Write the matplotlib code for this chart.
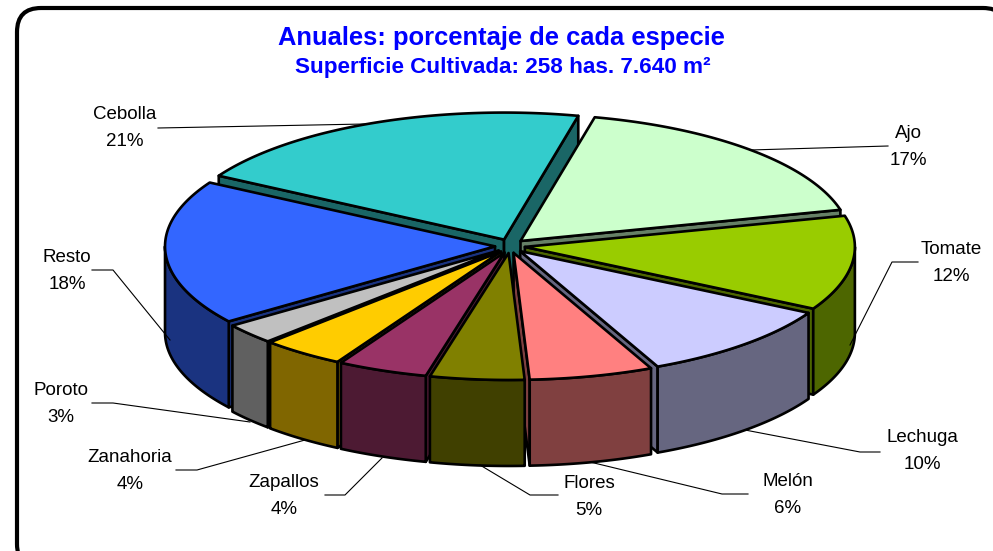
import numpy as np
import matplotlib
matplotlib.use('Agg')
import matplotlib.pyplot as plt
from matplotlib.patches import FancyBboxPatch, Polygon

especies = ['Ajo', 'Tomate', 'Lechuga', 'Melón', 'Flores', 'Zapallos', 'Zanahoria', 'Poroto', 'Resto', 'Cebolla']
porcentajes = [17.44, 12.03, 10.08, 6.06, 4.61, 4.42, 4.08, 2.61, 18.44, 20.23]
etiquetas = [17, 12, 10, 6, 5, 4, 4, 3, 18, 21]
colores = ['#CCFFCC', '#99CC00', '#CCCCFF', '#FF8080', '#808000', '#993366', '#FFCC00', '#C0C0C0', '#3366FF', '#33CCCC']

# label centres and leader paths, in pixels
label_pos = [(908, 147), (951, 263), (922, 451), (788, 495), (589, 497), (284, 496), (130, 471), (61, 404), (67, 271), (125, 128)]
leaders = [
    [(888, 146), (750, 150)],
    [(918, 262), (892, 262), (850, 345)],
    [(880, 452), (860, 452), (745, 430)],
    [(748, 494), (722, 494), (590, 462)],
    [(558, 495), (530, 495), (480, 465)],
    [(325, 495), (345, 495), (382, 458)],
    [(176, 470), (197, 470), (305, 440)],
    [(92, 403), (113, 403), (250, 422)],
    [(92, 270), (113, 270), (170, 340)],
    [(158, 128), (365, 124)],
]

cx, cy = 510, 246
rx, ry = 330, 127
ex, ey = 15, 7
depth = 86
start = 13.0


def rim(t, ax_, ay_):
    t = np.radians(t)
    return np.column_stack([ax_ + rx * np.sin(t), ay_ - ry * np.cos(t)])


def draw_slice(ax, t0, t1, color):
    mid = np.radians((t0 + t1) / 2)
    ax_ = cx + ex * np.sin(mid)
    ay_ = cy - ey * np.cos(mid)
    arc = rim(np.linspace(t0, t1, 80), ax_, ay_)
    apex = np.array([[ax_, ay_]])
    apex_low = apex + [0, depth]
    side = tuple(c * 0.5 for c in matplotlib.colors.to_rgb(color))
    style = dict(edgecolor='black', linewidth=1.9, joinstyle='round')
    # radial walls, only the ones facing the viewer
    if np.sin(np.radians(t0)) < 0:
        pts = np.vstack([apex, [arc[0]], [arc[0] + [0, depth]], apex_low])
        ax.add_patch(Polygon(pts, facecolor=side, **style))
    if np.sin(np.radians(t1)) > 0:
        pts = np.vstack([apex, [arc[-1]], [arc[-1] + [0, depth]], apex_low])
        ax.add_patch(Polygon(pts, facecolor=side, **style))
    # outer wall, front half of the rim only
    a, b = max(t0, 90), min(t1, 270)
    if a < b:
        front = rim(np.linspace(a, b, 60), ax_, ay_)
        ax.add_patch(Polygon(np.vstack([front, (front + [0, depth])[::-1]]), facecolor=side, **style))
    ax.add_patch(Polygon(np.vstack([apex, arc]), facecolor=color, **style))


fig = plt.figure(figsize=(9.93, 5.51), dpi=100)
ax = fig.add_axes([0, 0, 1, 1])
ax.set_xlim(0, 993)
ax.set_ylim(551, 0)
ax.axis('off')

ax.add_patch(FancyBboxPatch((17, 8), 990, 560, boxstyle='round,pad=0,rounding_size=24', linewidth=3, edgecolor='black', facecolor='white'))

total = sum(porcentajes)
edges = start + np.concatenate([[0], np.cumsum(porcentajes)]) * 360 / total
slices = list(zip(edges[:-1], edges[1:], colores))
slices.sort(key=lambda s: -np.cos(np.radians((s[0] + s[1]) / 2)))
for t0, t1, color in slices:
    draw_slice(ax, t0, t1, color)

for nombre, valor, pos, path in zip(especies, etiquetas, label_pos, leaders):
    xs, ys = zip(*path)
    ax.plot(xs, ys, color='black', linewidth=0.8)
    ax.text(pos[0], pos[1], f'{nombre}\n{valor}%', ha='center', va='center', fontsize=13.5,
            family='Liberation Sans', linespacing=1.8, color='black')

ax.text(501, 38, 'Anuales: porcentaje de cada especie', ha='center', va='center', fontsize=18.4,
        fontweight='bold', family='Liberation Sans', color='#0000FF')
ax.text(503, 68, 'Superficie Cultivada: 258 has. 7.640 m²', ha='center', va='center', fontsize=16.2,
        fontweight='bold', family='Liberation Sans', color='#0000FF')

fig.savefig('out.png', dpi=100)
